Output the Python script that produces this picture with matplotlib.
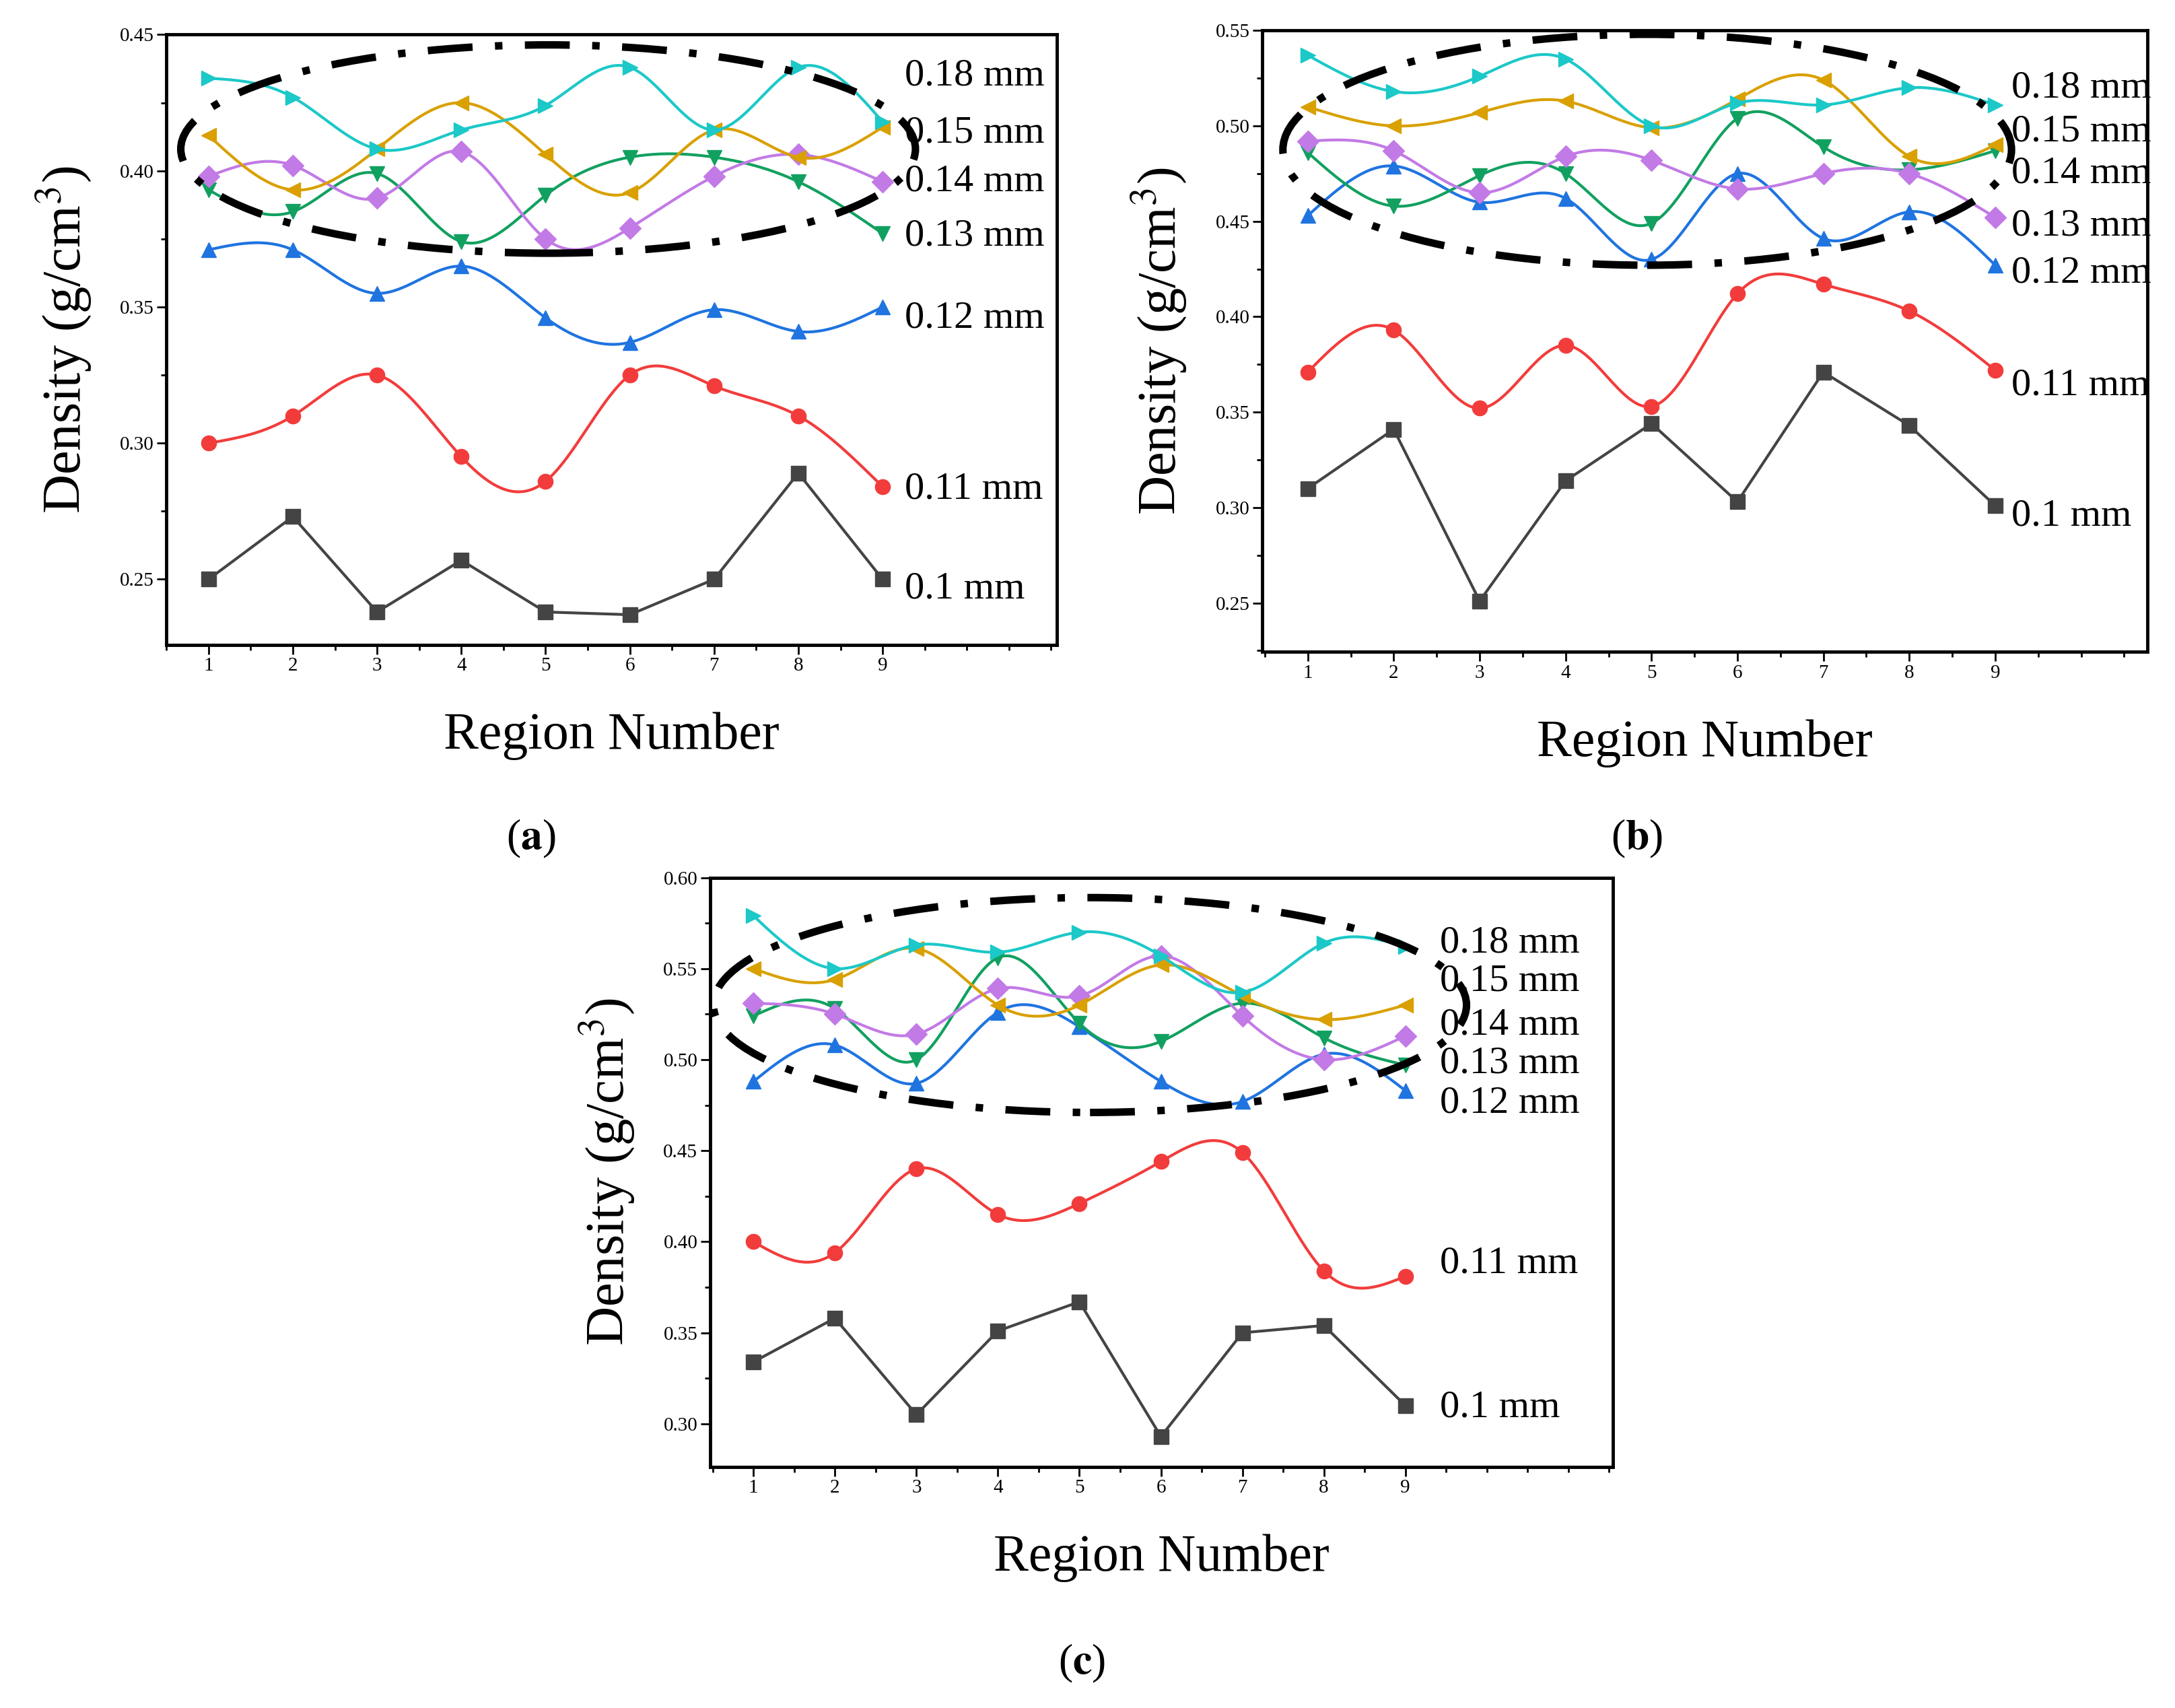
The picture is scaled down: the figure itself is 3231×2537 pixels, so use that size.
import numpy as np
import matplotlib
matplotlib.use("Agg")
import matplotlib.pyplot as plt
from matplotlib.patches import Ellipse
from matplotlib.ticker import MultipleLocator

plt.rcParams["font.family"] = ["Liberation Serif", "DejaVu Serif"]
plt.rcParams["mathtext.fontset"] = "stix"

regions = np.arange(1, 10)
labels = ["0.1 mm", "0.11 mm", "0.12 mm", "0.13 mm", "0.14 mm", "0.15 mm", "0.18 mm"]

a_vals = [
    [0.250, 0.273, 0.238, 0.257, 0.238, 0.237, 0.250, 0.289, 0.250],
    [0.300, 0.310, 0.325, 0.295, 0.286, 0.325, 0.321, 0.310, 0.284],
    [0.371, 0.371, 0.355, 0.365, 0.346, 0.337, 0.349, 0.341, 0.350],
    [0.393, 0.385, 0.399, 0.374, 0.391, 0.405, 0.405, 0.396, 0.377],
    [0.398, 0.402, 0.390, 0.407, 0.375, 0.379, 0.398, 0.406, 0.396],
    [0.413, 0.393, 0.408, 0.425, 0.406, 0.392, 0.415, 0.405, 0.416],
    [0.434, 0.427, 0.408, 0.415, 0.424, 0.438, 0.415, 0.438, 0.418],
]
b_vals = [
    [0.310, 0.341, 0.251, 0.314, 0.344, 0.303, 0.371, 0.343, 0.301],
    [0.371, 0.393, 0.352, 0.385, 0.353, 0.412, 0.417, 0.403, 0.372],
    [0.453, 0.479, 0.460, 0.462, 0.430, 0.475, 0.441, 0.455, 0.427],
    [0.486, 0.458, 0.474, 0.475, 0.449, 0.504, 0.489, 0.477, 0.487],
    [0.492, 0.487, 0.465, 0.484, 0.482, 0.467, 0.475, 0.475, 0.452],
    [0.510, 0.500, 0.507, 0.513, 0.499, 0.514, 0.524, 0.484, 0.490],
    [0.537, 0.518, 0.526, 0.535, 0.500, 0.512, 0.511, 0.520, 0.511],
]
c_vals = [
    [0.334, 0.358, 0.305, 0.351, 0.367, 0.293, 0.350, 0.354, 0.310],
    [0.400, 0.394, 0.440, 0.415, 0.421, 0.444, 0.449, 0.384, 0.381],
    [0.488, 0.508, 0.487, 0.526, 0.518, 0.488, 0.477, 0.503, 0.483],
    [0.524, 0.528, 0.500, 0.556, 0.520, 0.510, 0.531, 0.512, 0.497],
    [0.531, 0.525, 0.514, 0.539, 0.535, 0.557, 0.524, 0.500, 0.513],
    [0.550, 0.544, 0.561, 0.530, 0.530, 0.552, 0.535, 0.522, 0.530],
    [0.579, 0.550, 0.563, 0.559, 0.570, 0.557, 0.537, 0.564, 0.562],
]

colors = ["#444444", "#f23c3c", "#1f74e0", "#12a060", "#c27ae6", "#d9a000", "#1cc8c8"]
markers = ["s", "o", "^", "v", "D", "<", ">"]


def spline(x, y, n=300):
    # natural cubic spline
    x = np.asarray(x, float)
    y = np.asarray(y, float)
    m = len(x)
    h = np.diff(x)
    A = np.zeros((m, m))
    r = np.zeros(m)
    A[0, 0] = A[-1, -1] = 1
    for i in range(1, m - 1):
        A[i, i - 1] = h[i - 1]
        A[i, i] = 2 * (h[i - 1] + h[i])
        A[i, i + 1] = h[i]
        r[i] = 3 * ((y[i + 1] - y[i]) / h[i] - (y[i] - y[i - 1]) / h[i - 1])
    c = np.linalg.solve(A, r)
    xs = np.linspace(x[0], x[-1], n)
    idx = np.clip(np.searchsorted(x, xs) - 1, 0, m - 2)
    dx = xs - x[idx]
    b = (y[1:] - y[:-1]) / h - h * (2 * c[:-1] + c[1:]) / 3
    d = (c[1:] - c[:-1]) / (3 * h)
    ys = y[idx] + b[idx] * dx + c[idx] * dx ** 2 + d[idx] * dx ** 3
    return xs, ys


W, H = 1568, 1232
fig = plt.figure(figsize=(32.31, 25.37), dpi=100)

panels = [
    dict(box=(120, 25, 762, 465), xlim=(0.5, 11.07), ylim=(0.226, 0.45), vals=a_vals,
         ell=(5.03, 0.408, 8.72, 0.0765), tx=9.26,
         ty=[0.2465, 0.283, 0.346, 0.376, 0.396, 0.414, 0.435], tag="a",
         tagpos=(383, 605)),
    dict(box=(910, 22, 1548, 470), xlim=(0.47, 10.77), ylim=(0.2245, 0.55), vals=b_vals,
         ell=(4.95, 0.4875, 8.48, 0.121), tx=9.19,
         ty=[0.2955, 0.364, 0.4228, 0.4475, 0.475, 0.497, 0.520], tag="b",
         tagpos=(1180, 605)),
    dict(box=(512, 633, 1163, 1058), xlim=(0.47, 11.55), ylim=(0.2764, 0.60), vals=c_vals,
         ell=(5.13, 0.530, 9.24, 0.118), tx=9.42,
         ty=[0.309, 0.388, 0.476, 0.498, 0.519, 0.543, 0.564], tag="c",
         tagpos=(780, 1200)),
]

for p in panels:
    x0, y0, x1, y1 = p["box"]
    ax = fig.add_axes([x0 / W, 1 - y1 / H, (x1 - x0) / W, (y1 - y0) / H])
    for i, (vals, col, mk) in enumerate(zip(p["vals"], colors, markers)):
        if i == 0:
            ax.plot(regions, vals, color=col, lw=3)
        else:
            xs, ys = spline(regions, vals)
            ax.plot(xs, ys, color=col, lw=3)
        ax.plot(regions, vals, ls="none", marker=mk, color=col, ms=16)
        ax.text(p["tx"], p["ty"][i], labels[i], fontsize=42, va="center", ha="left")
    ex, ey, ew, eh = p["ell"]
    ax.add_patch(Ellipse((ex, ey), ew, eh, fill=False, ec="black", lw=8,
                         ls=(0, (6, 3, 1, 3)), clip_on=False, zorder=5))
    ax.set_xlim(*p["xlim"])
    ax.set_ylim(*p["ylim"])
    ax.set_xticks(regions)
    ax.xaxis.set_minor_locator(MultipleLocator(0.5))
    ax.yaxis.set_major_locator(MultipleLocator(0.05))
    ax.yaxis.set_minor_locator(MultipleLocator(0.025))
    ax.yaxis.set_major_formatter(matplotlib.ticker.FormatStrFormatter("%.2f"))
    ax.tick_params(which="major", direction="out", length=10, width=2, labelsize=21)
    ax.tick_params(which="minor", direction="out", length=6, width=2)
    for s in ax.spines.values():
        s.set_linewidth(3.5)
    ax.set_xlabel("Region Number", fontsize=56, labelpad=40)
    ax.set_ylabel("Density (g/cm$^3$)", fontsize=58, labelpad=28)
    tx, ty = p["tagpos"]
    fig.text(tx / W, 1 - ty / H, "(" + r"$\mathbf{" + p["tag"] + "}$" + ")",
             fontsize=46, ha="center", va="center")

fig.savefig("out.png")
